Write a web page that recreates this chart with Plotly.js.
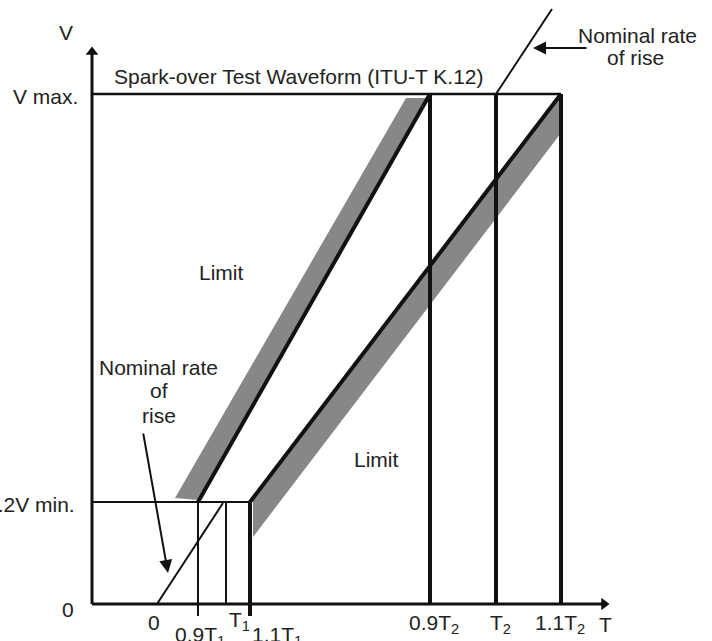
<!DOCTYPE html>
<html>
<head>
<meta charset="utf-8">
<script src="https://cdn.plot.ly/plotly-3.0.1.min.js"></script>
<style>html,body{margin:0;padding:0;background:#fff;}#chart{width:712px;height:641px;}</style>
</head>
<body>
<div id="chart"></div>
<script>
// ---- data (schematic units) ----
const markNames = ['0', '0.9T1', 'T1', '1.1T1', '0.9T2', 'T2', '1.1T2'];
const markX = [65, 106, 134, 158, 338, 404, 469];
const markLabels = ['0', '0.9T<sub>1</sub>', 'T<sub>1</sub>', '1.1T<sub>1</sub>', '0.9T<sub>2</sub>', 'T<sub>2</sub>', '1.1T<sub>2</sub>'];
const levelNames = ['0', '0.2V min.', 'V max.'];
const levelY = [0, 102, 510];
const axisXEnd = 517;
const axisYEnd = 557;

// limit lines (start at 0.2V min, end at V max)
const limit1X = [106, 338];
const limit1Y = [102, 510];
const limit2X = [158, 469];
const limit2Y = [102, 510];
// nominal rate of rise lines
const nomLowX = [65, 131];
const nomLowY = [0, 101];
const nomHighX = [404, 460];
const nomHighY = [510, 595];
// tolerance bands
const band1X = [83, 106, 337, 314];
const band1Y = [106, 104, 506, 506];
const band2X = [158, 469, 469, 161, 161];
const band2Y = [102, 510, 471, 67, 102];

const black = '#111';
const txt = '#222';
const fontFam = '"Liberation Sans", Arial, sans-serif';

function line(x, y, w) {
  return {type: 'scatter', mode: 'lines', x: x, y: y, line: {color: black, width: w}, hoverinfo: 'skip'};
}

const traces = [];
// bands
traces.push({type: 'scatter', mode: 'lines', x: band1X, y: band1Y, fill: 'toself', fillcolor: '#878787', line: {width: 0}, hoverinfo: 'skip'});
traces.push({type: 'scatter', mode: 'lines', x: band2X, y: band2Y, fill: 'toself', fillcolor: '#878787', line: {width: 0}, hoverinfo: 'skip'});
// axes
traces.push(line([0, 0], [0, axisYEnd - 4], 3));
traces.push(line([0, axisXEnd - 4], [0, 0], 3));
traces.push({type: 'scatter', mode: 'markers', x: [0], y: [axisYEnd - 5], marker: {symbol: 'triangle-up', size: 11, color: black}, hoverinfo: 'skip'});
traces.push({type: 'scatter', mode: 'markers', x: [axisXEnd - 5], y: [0], marker: {symbol: 'triangle-right', size: 11, color: black}, hoverinfo: 'skip'});
// horizontal level lines
traces.push(line([0, markX[6]], [levelY[2], levelY[2]], 2.5));
traces.push(line([0, markX[3]], [levelY[1], levelY[1]], 2));
// vertical mark lines
traces.push(line([markX[1], markX[1]], [levelY[1], -12], 2));
traces.push(line([markX[2], markX[2]], [levelY[1], 0], 2));
traces.push(line([markX[3], markX[3]], [levelY[1], -12], 4));
traces.push(line([markX[4], markX[4]], [levelY[2], 0], 4));
traces.push(line([markX[5], markX[5]], [levelY[2], 0], 4));
traces.push(line([markX[6], markX[6]], [levelY[2], 0], 4));
// nominal lines
traces.push(line(nomLowX, nomLowY, 2));
traces.push(line(nomHighX, nomHighY, 2));
// limit lines
traces.push(line(limit1X, limit1Y, 4));
traces.push(line(limit2X, limit2Y, 4));

function label(text, x, y, xanchor, size) {
  return {text: text, x: x, y: y, xref: 'x', yref: 'y', showarrow: false,
          xanchor: xanchor || 'center', yanchor: 'middle',
          font: {family: fontFam, size: size || 21, color: txt}};
}

const ann = [
  label('V', -26, 572),
  label(levelNames[2], -12, 508, 'right'),
  label(levelNames[1], -15, 100, 'right'),
  label(levelNames[0], -24, -5),
  label('Spark-over Test Waveform (ITU-T K.12)', 20, 528, 'left'),
  label('Limit', 129, 332),
  label('Limit', 284, 145),
  label('Nominal rate', 66, 237),
  label('of', 67, 214),
  label('rise', 67, 189),
  label('Nominal rate', 545, 569),
  label('of rise', 543, 547),
  label(markLabels[0], 62, -18),
  label(markLabels[1], 81, -32, 'left'),
  label(markLabels[2], 135, -17, 'left'),
  label(markLabels[3], 158, -32, 'left'),
  label(markLabels[4], 315, -20, 'left'),
  label(markLabels[5], 396, -20, 'left'),
  label(markLabels[6], 441, -20, 'left'),
  label('T', 513, -20),
  // arrows
  {x: 76, y: 31, ax: 51, ay: 172, xref: 'x', yref: 'y', axref: 'x', ayref: 'y', text: '', showarrow: true,
   arrowhead: 2, arrowsize: 1.3, arrowwidth: 2, arrowcolor: black, standoff: 0},
  {x: 441, y: 556, ax: 496, ay: 556, xref: 'x', yref: 'y', axref: 'x', ayref: 'y', text: '', showarrow: true,
   arrowhead: 2, arrowsize: 1.3, arrowwidth: 2, arrowcolor: black, standoff: 0}
];

const layout = {
  width: 712, height: 641,
  margin: {l: 0, r: 0, t: 0, b: 0},
  paper_bgcolor: '#fff', plot_bgcolor: '#fff',
  showlegend: false,
  xaxis: {range: [-92, 620], visible: false, fixedrange: true},
  yaxis: {range: [-37, 604], visible: false, fixedrange: true},
  annotations: ann
};

Plotly.newPlot('chart', traces, layout, {displayModeBar: false, staticPlot: true});
</script>
</body>
</html>
